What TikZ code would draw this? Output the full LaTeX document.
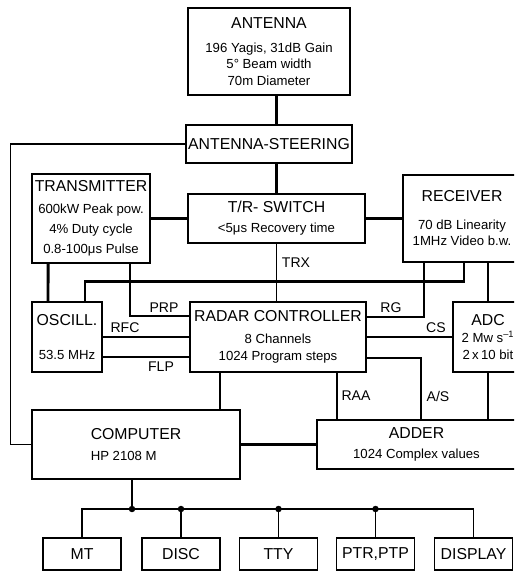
\documentclass[tikz,border=0pt]{standalone}
\usepackage{fontspec}
\setmainfont{Liberation Sans}
\newcommand{\blkhead}{\fontsize{9}{11}\selectfont}

\begin{document}
\begin{tikzpicture}[x=0.02cm,y=-0.02cm,
  blk/.style={draw,line width=1.1pt,inner sep=1pt,align=center,font=\fontsize{7.5}{9.5}\selectfont},
  heavy/.style={line width=1.7pt},
  wire/.style={line width=0.9pt},
  lbl/.style={font=\fontsize{8}{9}\selectfont,inner sep=0pt},
  dot/.style={circle,fill,inner sep=1.3pt}]
  \clip (0,0) rectangle (514,578);
  \node[blk,minimum width=3.24cm,minimum height=1.74cm] (ant) at (269,51.5) {{\blkhead ANTENNA}\\[4pt]196 Yagis, 31dB Gain\\5° Beam width\\70m Diameter};
  \node[blk,minimum width=3.24cm,minimum height=0.76cm] (steer) at (269,144) {\blkhead ANTENNA-STEERING};
  \node[blk,minimum width=3.54cm,minimum height=0.98cm] (tr) at (276.5,218.5) {{\blkhead T/R- SWITCH}\\[2pt]<5μs Recovery time};
  \node[blk,minimum width=2.36cm,minimum height=1.78cm] (xmit) at (91,218.5) {{\blkhead TRANSMITTER}\\[3pt]600kW Peak pow.\\[2pt]4\% Duty cycle\\[2pt]0.8-100μs Pulse};
  \node[blk,minimum width=2.36cm,minimum height=1.74cm] (rcv) at (462,218.5) {{\blkhead RECEIVER}\\[6pt]70 dB Linearity\\1MHz Video b.w.};
  \node[blk,minimum width=1.4cm,minimum height=1.4cm] (osc) at (67,337) {{\blkhead OSCILL.}\\[10pt]53.5 MHz};
  \node[blk,minimum width=3.52cm,minimum height=1.4cm] (ctrl) at (278,337) {{\blkhead RADAR CONTROLLER}\\[3pt]8 Channels\\1024 Program steps};
  \node[blk,minimum width=1.4cm,minimum height=1.4cm] (adc) at (488,337) {{\blkhead ADC}\\2 Mw s\textsuperscript{–1}\\2\,x\,10 bit};
  \node[blk,minimum width=4.16cm,minimum height=1.38cm,align=left] (comp) at (136,444.5) {{\blkhead COMPUTER}\\[2pt]HP 2108 M};
  \node[blk,minimum width=3.98cm,minimum height=0.98cm] (add) at (416.5,444.5) {{\blkhead ADDER}\\[2pt]1024 Complex values};
  \foreach \n/\x/\t in {mt/82/MT,disc/181/DISC,tty/278.5/TTY,ptr/375.5/{PTR,PTP},disp/473.5/DISPLAY}
    \node[blk,minimum width=1.56cm,minimum height=0.64cm,font=\blkhead] (\n) at (\x,554) {\t};

  % RF chain
  \draw[heavy] (ant.south -| tr.north) -- (steer.north -| tr.north);
  \draw[heavy] (steer.south -| tr.north) -- (tr.north);
  \draw[heavy] (xmit.east) -- (tr.west);
  \draw[heavy] (tr.east) -- (rcv.west);
  \draw[heavy] ([xshift=-0.86cm]xmit.south) -- ([xshift=-0.38cm]osc.north);
  \draw[heavy] ([xshift=0.36cm]osc.north) -- ++(0,0.4cm) -| ([xshift=0.04cm]rcv.south);
  \draw[heavy] (adc.north |- rcv.south) -- (adc.north);
  \draw[heavy] (adc.south) -- (adc.south |- add.north);
  \draw[heavy] (comp.east) -- (add.west);
  \draw[wire] (steer.west) -- ++(-3.5cm,0) |- (comp.west);

  % control lines
  \coordinate (prp) at ([xshift=0.78cm]xmit.south);
  \coordinate (rg) at ([xshift=-0.76cm]rcv.south);
  \coordinate (as) at ([xshift=0.09cm]add.north);
  \coordinate (raa) at ([xshift=1.18cm]ctrl.south);
  \coordinate (cc) at ([xshift=-1.16cm]ctrl.south);
  \draw[wire] (tr.south) -- (tr.south |- ctrl.north);
  \draw[wire] (prp) |- ([yshift=0.42cm]ctrl.west);
  \draw[wire] (osc.east) -- (ctrl.west);
  \draw[wire] ([yshift=-0.4cm]osc.east) -- ([yshift=-0.4cm]ctrl.west);
  \draw[wire] (rg) |- ([yshift=0.4cm]ctrl.east);
  \draw[wire] (ctrl.east) -- (adc.west);
  \draw[wire] ([yshift=-0.42cm]ctrl.east) -| (as);
  \draw[wire] (raa) -- (raa |- add.north);
  \draw[wire] (cc) -- (cc |- comp.north);

  \node[lbl] (ltrx) at (296,263) {TRX};
  \node[lbl] (lprp) at (164,308) {PRP};
  \node[lbl] (lrfc) at (125,328) {RFC};
  \node[lbl] (lflp) at (161,367) {FLP};
  \node[lbl] (lrg) at (391,308) {RG};
  \node[lbl] (lcs) at (436,328) {CS};
  \node[lbl] (lraa) at (356,396) {RAA};
  \node[lbl] (las) at (438,396) {A/S};

  % peripheral bus
  \coordinate (bus) at (0,509);
  \coordinate (cb) at ([xshift=-0.08cm]comp.south);
  \draw[wire] (mt.north) |- (bus -| disp.north) -- (disp.north);
  \draw[wire] (cb) -- (cb |- bus) node[dot] (dcomp) {};
  \foreach \n in {disc,tty,ptr}
    \draw[wire] (\n.north) -- (\n.north |- bus) node[dot] (d\n) {};
\end{tikzpicture}
\end{document}
